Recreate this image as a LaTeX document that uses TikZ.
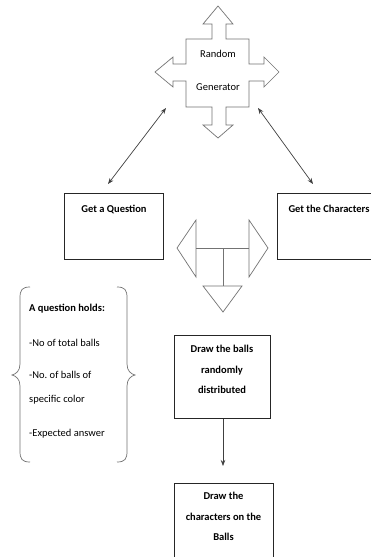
\documentclass[tikz,border=0pt]{standalone}
\usepackage{fontspec}
\setmainfont{Carlito}
\usetikzlibrary{arrows.meta}
\frenchspacing
\begin{document}
\begin{tikzpicture}[x=1pt,y=-1pt,
  every node/.style={font=\fontsize{10.5}{20.5}\selectfont, inner sep=0pt},
  box/.style={draw=black!85, line width=0.8pt, anchor=north west},
  lbl/.style={font=\fontsize{10.5}{20.5}\selectfont\bfseries, align=center},
  shapeline/.style={draw=black!55, line width=0.7pt},
  conn/.style={draw=black!75, line width=0.7pt},
  tip/.style={-{Stealth[length=6pt,width=4.5pt]}},
  dtip/.style={{Stealth[length=6pt,width=4.5pt]}-{Stealth[length=6pt,width=4.5pt]}}]
\useasboundingbox (0,0) rectangle (371,557);
\clip (0,0) rectangle (371,557);
\fill[white] (0,0) rectangle (371,557);

% Random generator cross
\draw[shapeline] (212,39) -- (212,24) -- (203,24) -- (218,6) -- (233,24) -- (226,24) -- (226,39)
  -- (249,39) -- (249,64) -- (264,64) -- (264,57) -- (279,72) -- (264,87) -- (264,81) -- (249,81)
  -- (249,107) -- (226,107) -- (226,125) -- (233,125) -- (218,138) -- (203,125) -- (212,125) -- (212,107)
  -- (186,107) -- (186,81) -- (173,81) -- (173,87) -- (155,72) -- (173,57) -- (173,64) -- (186,64)
  -- (186,39) -- cycle;
\node (gen1) at (218,54) {Random};
\node (gen2) at (218,87) {Generator};
\coordinate (gL) at (166,108);
\coordinate (gR) at (258,108);

% boxes
\node[box, minimum width=99, minimum height=66] (q) at (64,193) {};
\node[lbl, anchor=base] (qt) at (114,212) {Get a Question};
\node[box, minimum width=103, minimum height=66] (c) at (277,193) {};
\node[lbl, anchor=base] (ct) at (329,212) {Get the Characters};
\coordinate (qT) at (108,184);
\coordinate (cT) at (313,184);

\draw[conn, dtip] (gL) -- (qT);
\draw[conn, dtip] (gR) -- (cT);

% T shape with triangles
\draw[shapeline] (196,220) -- (177,248) -- (196,277) -- cycle;
\draw[shapeline] (249,220) -- (268,248) -- (249,277) -- cycle;
\draw[shapeline] (196,248) -- (249,248);
\draw[shapeline] (223,248) -- (223,286);
\draw[shapeline] (203,286) -- (242,286) -- (223,312) -- cycle;

% braces
\draw[shapeline] (30,287) .. controls (22,287) and (20,290) .. (20,298) -- (20,364)
  .. controls (20,371) and (16,374) .. (12,375) .. controls (16,376) and (20,379) .. (20,386)
  -- (20,451) .. controls (20,459) and (22,462) .. (30,462);
\draw[shapeline] (117,287) .. controls (125,287) and (127,290) .. (127,298) -- (127,364)
  .. controls (127,371) and (131,374) .. (135,375) .. controls (131,376) and (127,379) .. (127,386)
  -- (127,451) .. controls (127,459) and (125,462) .. (117,462);
\node[anchor=base west, font=\fontsize{10.5}{12}\selectfont\bfseries] (h) at (29,311) {A question holds:};
\node[anchor=base west] (l1) at (29,346) {-No of total balls};
\node[anchor=base west] (l2) at (29,378) {-No. of balls of};
\node[anchor=base west] (l3) at (29,402) {specific color};
\node[anchor=base west] (l4) at (29,436) {-Expected answer};

% lower boxes
\node[box, minimum width=96, minimum height=83] (b) at (174,335) {};
\node[lbl, anchor=north] (bt) at (222,345) {Draw the balls\\randomly\\distributed};
\node[box, minimum width=99, minimum height=95] (d) at (174,483) {};
\node[lbl, anchor=north] (dt) at (223.5,492) {Draw the\\characters on the\\Balls};
\coordinate (dT) at (223,466);
\draw[conn, tip] (b.south -| dT) -- (dT);
\end{tikzpicture}
\end{document}
